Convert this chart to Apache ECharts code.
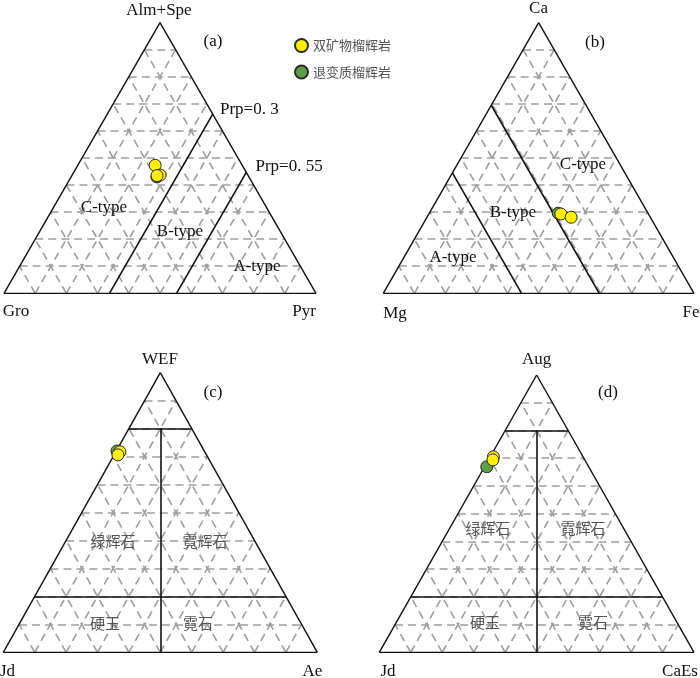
<!DOCTYPE html>
<html><head><meta charset="utf-8">
<script src="https://cdn.jsdelivr.net/npm/echarts@6/dist/echarts.min.js"></script>
<style>html,body{margin:0;padding:0;background:#fff}#c{width:700px;height:678px}</style>
</head><body><div id="c"></div>
<script>
// ---------- DATA (ternary percentages: left / right / top vertex) ----------
const seriesNames = ['双矿物榴辉岩', '退变质榴辉岩'];

// (a) Gro (left) – Pyr (right) – Alm+Spe (top)
const aYellowGro = [27.9, 28.1, 29.2];
const aYellowPyr = [24.8, 28.2, 27.3];
const aYellowAlm = [47.3, 43.7, 43.5];
const aGreenGro = [29.5];
const aGreenPyr = [27.5];
const aGreenAlm = [43.0];
const aPrpLines = [33.8, 55.3];           // constant-Pyr boundaries
const aPrpLabels = ['Prp=0. 3', 'Prp=0. 55'];

// (b) Mg (left) – Fe (right) – Ca (top)
const bYellowMg = [28.2, 25.5];
const bYellowFe = [42.5, 46.4];
const bYellowCa = [29.3, 28.1];
const bGreenMg = [28.9];
const bGreenFe = [41.5];
const bGreenCa = [29.6];
const bMgLines = [55.5, 30.5];            // constant-Mg boundaries

// (c) Jd (left) – Ae (right) – WEF (top)
const cYellowJd = [27.0, 28.2];
const cYellowAe = [1.3, 1.2];
const cYellowWEF = [71.7, 70.6];
const cGreenJd = [27.8];
const cGreenAe = [0.2];
const cGreenWEF = [72.0];

// (d) Jd (left) – CaEs (right) – Aug (top)
const dYellowJd = [28.5, 29.2];
const dYellowCaEs = [1.0, 1.4];
const dYellowAug = [70.5, 69.4];
const dGreenJd = [32.4];
const dGreenCaEs = [0.7];
const dGreenAug = [66.9];

// pyroxene field boundaries (c, d): top-vertex levels
const pxTopLevels = [80, 20];

// ---------- helpers ----------
function tern(l, r, t) { const s = l + r + t; const tt = t / s, rr = r / s; return [rr + tt / 2, tt]; }
function pts(L, R, T) { return L.map((_, i) => tern(L[i], R[i], T[i])); }

const grids = [
  { left: 4, top: 22.7, width: 312, height: 270.6 },
  { left: 383.3, top: 22.7, width: 310.7, height: 270.6 },
  { left: 3.3, top: 372.7, width: 314, height: 279.6 },
  { left: 379.3, top: 375, width: 314.7, height: 277.3 }
];

const serif = 'Liberation Serif';
const cjk = 'Noto Sans CJK SC';
const YELLOW = '#fff000', GREEN = '#5b9e48';

const series = [];
const xAxis = [], yAxis = [];
grids.forEach((g, i) => {
  xAxis.push({ gridIndex: i, type: 'value', min: 0, max: 1, show: false });
  yAxis.push({ gridIndex: i, type: 'value', min: 0, max: 1, show: false });
  const gl = [];
  for (let k = 1; k <= 9; k++) {
    const f = k / 10;
    gl.push({ coords: [tern(1 - f, 0, f), tern(0, 1 - f, f)] });
    gl.push({ coords: [tern(1 - f, f, 0), tern(0, f, 1 - f)] });
    gl.push({ coords: [tern(f, 1 - f, 0), tern(f, 0, 1 - f)] });
  }
  series.push({ type: 'lines', coordinateSystem: 'cartesian2d', xAxisIndex: i, yAxisIndex: i, silent: true, z: 1,
    data: gl, lineStyle: { color: '#9e9e9e', width: 1.6, type: [8, 5], opacity: 1 } });
  series.push({ type: 'lines', coordinateSystem: 'cartesian2d', xAxisIndex: i, yAxisIndex: i, silent: true, z: 2,
    data: [{ coords: [tern(1, 0, 0), tern(0, 1, 0)] }, { coords: [tern(0, 1, 0), tern(0, 0, 1)] }, { coords: [tern(0, 0, 1), tern(1, 0, 0)] }],
    lineStyle: { color: '#111', width: 1.4, type: 'solid', opacity: 1 } });
});

const bnd = [[], [], [], []];
aPrpLines.forEach(p => bnd[0].push({ coords: [tern(100 - p, p, 0), tern(0, p, 100 - p)] }));
bMgLines.forEach(m => bnd[1].push({ coords: [tern(m, 100 - m, 0), tern(m, 0, 100 - m)] }));
[2, 3].forEach(i => {
  pxTopLevels.forEach(t => bnd[i].push({ coords: [tern(100 - t, 0, t), tern(0, 100 - t, t)] }));
  const t0 = pxTopLevels[0];
  bnd[i].push({ coords: [tern((100 - t0) / 2, (100 - t0) / 2, t0), tern(50, 50, 0)] });
});
bnd.forEach((d, i) => series.push({ type: 'lines', coordinateSystem: 'cartesian2d', xAxisIndex: i, yAxisIndex: i, silent: true, z: 3,
  data: d, lineStyle: { color: '#111', width: 1.6, type: 'solid', opacity: 1 } }));

const greenData = [pts(aGreenGro, aGreenPyr, aGreenAlm), pts(bGreenMg, bGreenFe, bGreenCa), pts(cGreenJd, cGreenAe, cGreenWEF), pts(dGreenJd, dGreenCaEs, dGreenAug)];
const yellowData = [pts(aYellowGro, aYellowPyr, aYellowAlm), pts(bYellowMg, bYellowFe, bYellowCa), pts(cYellowJd, cYellowAe, cYellowWEF), pts(dYellowJd, dYellowCaEs, dYellowAug)];
[0, 1, 2, 3].forEach(i => {
  series.push({ type: 'scatter', name: seriesNames[1], xAxisIndex: i, yAxisIndex: i, z: 5, symbol: 'circle', symbolSize: 12,
    data: greenData[i], itemStyle: { color: GREEN, borderColor: '#2a2a2a', borderWidth: 1, opacity: 1 } });
  series.push({ type: 'scatter', name: seriesNames[0], xAxisIndex: i, yAxisIndex: i, z: 6, symbol: 'circle', symbolSize: 12,
    data: yellowData[i], itemStyle: { color: YELLOW, borderColor: '#2a2a2a', borderWidth: 1, opacity: 1 } });
});

function T(text, x, y, opts) {
  opts = opts || {};
  const font = (opts.size || 17) + 'px "' + (opts.family || serif) + '"';
  const align = opts.align || 'center';
  return { type: 'text', x: x, y: y, silent: true, z: 10,
    style: { text: text, font: font, fill: opts.color || '#111', textAlign: align, align: align, textVerticalAlign: 'middle', verticalAlign: 'middle' } };
}
const cn = { family: cjk, size: 15, color: '#555' };
const graphic = [
  T('Alm+Spe', 159, 10.5), T('(a)', 213, 42), T(aPrpLabels[0], 220, 110, { align: 'left' }), T(aPrpLabels[1], 255.5, 167, { align: 'left' }),
  T('C-type', 104, 208), T('B-type', 180, 232), T('A-type', 257, 266.5), T('Gro', 16, 312), T('Pyr', 304, 312),
  T('Ca', 538.5, 9), T('(b)', 595, 43), T('C-type', 583, 165), T('B-type', 513, 213), T('A-type', 453, 258),
  T('Mg', 395, 313.5), T('Fe', 691, 313),
  T('WEF', 160, 360), T('(c)', 213, 393), T('Jd', 7.5, 672), T('Ae', 312.5, 672),
  T('绿辉石', 113, 541.5, cn), T('霓辉石', 205, 541.5, cn), T('硬玉', 105, 623, cn), T('霓石', 198, 623, cn),
  T('Aug', 536.7, 360), T('(d)', 608, 393), T('Jd', 388, 672), T('CaEs', 680, 672),
  T('绿辉石', 488, 528, cn), T('霓辉石', 583, 528, cn), T('硬玉', 485, 622, cn), T('霓石', 593, 622, cn)
];

const chart = echarts.init(document.getElementById('c'), null, { renderer: 'canvas' });
chart.setOption({
  animation: false,
  backgroundColor: '#fff',
  grid: grids.map(g => Object.assign({ containLabel: false }, g)),
  xAxis: xAxis, yAxis: yAxis,
  legend: { data: seriesNames, orient: 'vertical', left: 289, top: 33, itemWidth: 13, itemHeight: 13, itemGap: 11.5,
    icon: 'circle', selectedMode: false, textStyle: { fontFamily: cjk, fontSize: 13, color: '#555' } },
  series: series,
  graphic: graphic
});
</script></body></html>
